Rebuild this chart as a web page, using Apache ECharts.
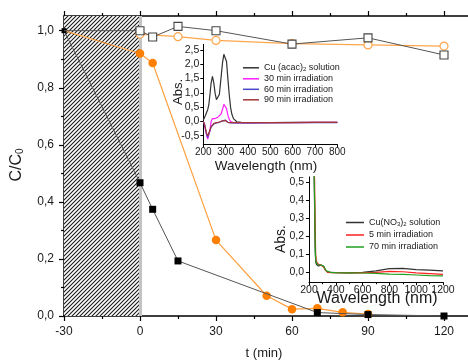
<!DOCTYPE html>
<html><head><meta charset="utf-8">
<script src="https://cdn.jsdelivr.net/npm/echarts@6/dist/echarts.min.js"></script>
<style>html,body{margin:0;padding:0;background:#fff}#c{width:468px;height:363px}</style>
</head><body><div id="c"></div>
<script>
// ---------- main chart data ----------
const tOpenSq = [-30, 0, 5, 15, 30, 60, 90, 120];
const vOpenSq = [1.0, 1.0, 0.978, 1.015, 1.0, 0.953, 0.975, 0.915];
const tOpenCirc = [0, 15, 30, 60, 90, 120];
const vOpenCirc = [0.988, 0.979, 0.966, 0.955, 0.950, 0.946];
const tFillCirc = [-30, 0, 5, 30, 50, 60, 70, 80, 90];
const vFillCirc = [1.0, 0.92, 0.887, 0.266, 0.071, 0.024, 0.027, 0.013, 0.007];
const tFillSq = [-30, 0, 5, 15, 70, 90, 120];
const vFillSq = [1.0, 0.467, 0.374, 0.193, 0.012, 0.005, 0.0];
const darkPeriod = [-30, 0];
const xTicksMain = [-30, 0, 30, 60, 90, 120];
const yTicksMain = [0, 0.2, 0.4, 0.6, 0.8, 1.0];
const yMinorMain = [0.1, 0.3, 0.5, 0.7, 0.9];

// ---------- inset 1: Cu(acac)2 ----------
const wl1 = [200, 205, 210, 215, 220, 225, 230, 235, 241, 247, 253, 259, 265, 272, 279, 286, 292, 298, 304, 310, 316, 322, 328, 335, 342, 350, 370, 400, 500, 600, 700, 800];
const acac0  = [0.05, 0.12, 0.22, 0.32, 0.42, 0.6, 0.95, 1.35, 1.58, 1.35, 0.98, 0.76, 0.7, 0.95, 1.5, 2.05, 2.35, 2.4, 2.1, 1.5, 0.95, 0.5, 0.25, 0.1, 0.03, -0.01, -0.03, -0.04, -0.04, -0.03, -0.03, -0.03];
const acac30 = [0.0, -0.1, -0.3, -0.5, -0.62, -0.55, -0.3, 0.0, 0.1, 0.11, 0.1, 0.12, 0.15, 0.18, 0.25, 0.42, 0.6, 0.64, 0.45, 0.22, 0.08, 0.0, -0.03, -0.04, -0.05, -0.05, -0.05, -0.05, -0.04, -0.04, -0.03, -0.03];
const acac60 = [0.0, -0.1, -0.28, -0.45, -0.55, -0.5, -0.32, -0.2, -0.13, -0.09, -0.07, -0.05, -0.04, -0.03, -0.01, 0.02, 0.05, 0.05, 0.01, -0.03, -0.05, -0.05, -0.05, -0.05, -0.05, -0.05, -0.05, -0.05, -0.04, -0.04, -0.04, -0.04];
const acac90 = [0.0, -0.08, -0.25, -0.42, -0.5, -0.46, -0.3, -0.18, -0.11, -0.07, -0.05, -0.04, -0.03, -0.02, 0.0, 0.02, 0.03, 0.03, 0.0, -0.03, -0.04, -0.04, -0.04, -0.04, -0.04, -0.04, -0.04, -0.04, -0.04, -0.04, -0.03, -0.03];
const absTicks1 = [-0.5, 0, 0.5, 1.0, 1.5, 2.0, 2.5];

// ---------- inset 2: Cu(NO3)2 ----------
const wl2 = [238, 242, 246, 250, 255, 262, 270, 280, 290, 300, 310, 320, 330, 340, 360, 400, 500, 600, 700, 800, 900, 1000, 1100, 1200];
const no0  = [0.55, 0.35, 0.12, 0.06, 0.045, 0.04, 0.035, 0.04, 0.04, 0.038, 0.03, 0.015, 0.005, 0.0, 0.0, -0.002, -0.003, 0.0, 0.008, 0.02, 0.022, 0.015, 0.012, 0.008];
const no5  = [0.6, 0.5, 0.25, 0.1, 0.06, 0.05, 0.045, 0.042, 0.04, 0.038, 0.03, 0.015, 0.005, 0.0, -0.002, -0.002, -0.003, -0.003, 0.0, 0.005, 0.003, -0.003, -0.007, -0.011];
const no70 = [0.55, 0.4, 0.15, 0.07, 0.05, 0.045, 0.042, 0.042, 0.04, 0.04, 0.035, 0.02, 0.008, 0.002, 0.0, -0.002, -0.003, -0.004, -0.006, -0.01, -0.012, -0.015, -0.018, -0.02];
const absTicks2 = [0, 0.1, 0.2, 0.3, 0.4, 0.5];

const legend1Names = ['Cu (acac)2 solution', '30 min irradiation', '60 min irradiation', '90 min irradiation'];
const legend2Names = ['Cu(NO3)2 solution', '5 min irradiation', '70 min irradiation'];
const richLabels = {
  'Cu (acac)2 solution': '{n|Cu (acac)}{s|2}{n| solution}',
  'Cu(NO3)2 solution': '{n|Cu(NO}{s|3}{n|)}{s|2}{n| solution}'
};

const F = '"Liberation Sans", Arial, sans-serif';
const TXT = '#1a1a1a';
const comma = v => (Math.abs(v) < 1e-9 ? 0 : v).toFixed(1).replace('.', ',');
const plain = v => String(v);
const pair = (xs, ys) => xs.map((x, i) => [x, ys[i]]);

// hatch pattern
const pc = document.createElement('canvas');
pc.width = 4; pc.height = 4;
const g = pc.getContext('2d');
g.fillStyle = '#fff'; g.fillRect(0, 0, 4, 4);
g.strokeStyle = '#1a1a1a'; g.lineWidth = 1.1;
g.beginPath();
g.moveTo(-1, 5); g.lineTo(5, -1);
g.moveTo(-1, 1); g.lineTo(1, -1);
g.moveTo(3, 5); g.lineTo(5, 3);
g.stroke();

const axLine = (w) => ({ onZero: false, lineStyle: { color: '#000', width: w } });
const tick = (len, w) => ({ length: len, lineStyle: { color: '#000', width: w } });

const legendCommon = {
  orient: 'vertical', padding: 0, icon: 'rect', itemHeight: 1.5, selectedMode: false,
  formatter: n => richLabels[n] || ('{n|' + n + '}'),
  textStyle: { fontSize: 9, color: TXT, rich: {
    n: { fontSize: 9, fontFamily: F, color: TXT, lineHeight: 10 },
    s: { fontSize: 6, fontFamily: F, color: TXT, verticalAlign: 'bottom', lineHeight: 7 } } }
};

const chart = echarts.init(document.getElementById('c'));
const option = {
  animation: false,
  textStyle: { fontFamily: F },
  grid: [
    { left: 64, top: 16, width: 456, height: 300, outerBoundsMode: 'none', containLabel: false },
    { left: 203.3, top: 44.3, width: 134, height: 100, outerBoundsMode: 'none', containLabel: false },
    { left: 309, top: 176.9, width: 134, height: 105.3, outerBoundsMode: 'none', containLabel: false }
  ],
  xAxis: [
    { gridIndex: 0, type: 'value', min: -30, max: 150, interval: 30, position: 'bottom',
      axisLine: axLine(1.5), axisTick: tick(5, 1.2),
      minorTick: { show: true, splitNumber: 2, length: 3, lineStyle: { color: '#000', width: 1.2 } },
      axisLabel: { customValues: xTicksMain, formatter: plain, fontSize: 12, color: TXT, margin: 10, fontFamily: F }, splitLine: { show: false } },
    { gridIndex: 0, type: 'value', min: -30, max: 150, interval: 30, position: 'top',
      axisLine: axLine(1.5), axisTick: tick(5, 1.2),
      minorTick: { show: true, splitNumber: 2, length: 3, lineStyle: { color: '#000', width: 1.2 } },
      axisLabel: { show: false }, splitLine: { show: false } },
    { gridIndex: 1, type: 'value', min: 200, max: 800, interval: 100,
      axisLine: axLine(1), axisTick: tick(3, 1),
      axisLabel: { formatter: plain, fontSize: 10, color: TXT, margin: 3, fontFamily: F }, splitLine: { show: false } },
    { gridIndex: 2, type: 'value', min: 200, max: 1200, interval: 200,
      axisLine: axLine(1), axisTick: tick(3, 1),
      minorTick: { show: true, splitNumber: 2, length: 2, lineStyle: { color: '#000', width: 1 } },
      axisLabel: { formatter: plain, fontSize: 10.5, color: TXT, margin: 2, fontFamily: F }, splitLine: { show: false } }
  ],
  yAxis: [
    { gridIndex: 0, type: 'value', min: 0, max: 1.0515, position: 'left',
      axisLine: axLine(1.5), axisTick: Object.assign(tick(5, 1.2), { customValues: yTicksMain }),
      axisLabel: { customValues: yTicksMain, formatter: comma, fontSize: 12, color: TXT, margin: 10, fontFamily: F },
      splitLine: { show: false } },
    { gridIndex: 0, type: 'value', min: 0, max: 1.0515, position: 'left', offset: 0,
      axisLine: { show: false, onZero: false }, axisTick: Object.assign(tick(3, 1.2), { customValues: yMinorMain }),
      axisLabel: { show: false }, splitLine: { show: false } },
    { gridIndex: 1, type: 'value', min: -0.8, max: 2.7, position: 'left',
      axisLine: axLine(1), axisTick: Object.assign(tick(3, 1), { customValues: absTicks1 }),
      axisLabel: { customValues: absTicks1, formatter: comma, fontSize: 10.5, color: TXT, margin: 4, fontFamily: F },
      splitLine: { show: false } },
    { gridIndex: 2, type: 'value', min: -0.055, max: 0.53, position: 'left',
      axisLine: axLine(1), axisTick: Object.assign(tick(3, 1), { customValues: absTicks2 }),
      axisLabel: { customValues: absTicks2, formatter: comma, fontSize: 10.5, color: TXT, margin: 5, fontFamily: F },
      splitLine: { show: false } }
  ],
  legend: [
    Object.assign({}, legendCommon, { data: legend1Names, left: 243, top: 63.3, itemGap: 1.5, itemWidth: 16 }),
    Object.assign({}, legendCommon, { data: legend2Names, left: 346, top: 218, itemGap: 3, itemWidth: 18 })
  ],
  series: [
    { type: 'line', name: 'dark', xAxisIndex: 0, yAxisIndex: 0, data: [], z: 1, silent: true,
      markArea: { silent: true, z: 1, itemStyle: { color: { image: pc, repeat: 'repeat' }, opacity: 1 },
        data: [[{ xAxis: darkPeriod[0] }, { xAxis: darkPeriod[1] }]] },
      markLine: { silent: true, z: 1, symbol: ['none', 'none'], label: { show: false },
        lineStyle: { color: '#c4c4c4', width: 3, type: 'solid' }, data: [{ xAxis: darkPeriod[1] }] } },
    { type: 'line', name: 'openCirc', xAxisIndex: 0, yAxisIndex: 0, z: 2,
      data: pair(tOpenCirc, vOpenCirc), symbol: 'circle', symbolSize: 8,
      itemStyle: { color: '#fff', borderColor: '#FFA64D', borderWidth: 1.2 },
      lineStyle: { color: '#FFA64D', width: 1.2 } },
    { type: 'line', name: 'fillCirc', xAxisIndex: 0, yAxisIndex: 0, z: 3,
      data: pair(tFillCirc, vFillCirc).map((p, i) => i === 0 ? { value: p, symbol: 'none' } : p),
      symbol: 'circle', symbolSize: 8.5,
      itemStyle: { color: '#FF8000' }, lineStyle: { color: '#FFA040', width: 1.2 } },
    { type: 'line', name: 'fillSq', xAxisIndex: 0, yAxisIndex: 0, z: 4,
      data: pair(tFillSq, vFillSq).map((p, i) => i === 0 ? { value: p, symbolSize: 5 } : p),
      symbol: 'rect', symbolSize: 7,
      itemStyle: { color: '#000' }, lineStyle: { color: '#555', width: 1 } },
    { type: 'line', name: 'openSq', xAxisIndex: 0, yAxisIndex: 0, z: 5,
      data: pair(tOpenSq, vOpenSq).map((p, i) => i === 0 ? { value: p, symbol: 'none' } : p),
      symbol: 'rect', symbolSize: 8,
      itemStyle: { color: '#fff', borderColor: '#444', borderWidth: 1.1 }, lineStyle: { color: '#555', width: 1 } },
    // inset 1
    { type: 'line', name: legend1Names[0], xAxisIndex: 2, yAxisIndex: 2, symbol: 'none', z: 6,
      data: pair(wl1, acac0), lineStyle: { color: '#333', width: 1.2 }, itemStyle: { color: '#333' } },
    { type: 'line', name: legend1Names[1], xAxisIndex: 2, yAxisIndex: 2, symbol: 'none', z: 6,
      data: pair(wl1, acac30), lineStyle: { color: '#FF1EFF', width: 1.2 }, itemStyle: { color: '#FF1EFF' } },
    { type: 'line', name: legend1Names[2], xAxisIndex: 2, yAxisIndex: 2, symbol: 'none', z: 6,
      data: pair(wl1, acac60), lineStyle: { color: '#4848C8', width: 1.2 }, itemStyle: { color: '#4848C8' } },
    { type: 'line', name: legend1Names[3], xAxisIndex: 2, yAxisIndex: 2, symbol: 'none', z: 6,
      data: pair(wl1, acac90), lineStyle: { color: '#A03838', width: 1.2 }, itemStyle: { color: '#A03838' } },
    // inset 2
    { type: 'line', name: legend2Names[0], xAxisIndex: 3, yAxisIndex: 3, symbol: 'none', z: 6,
      data: pair(wl2, no0), lineStyle: { color: '#333', width: 1.2 }, itemStyle: { color: '#333' } },
    { type: 'line', name: legend2Names[1], xAxisIndex: 3, yAxisIndex: 3, symbol: 'none', z: 6,
      data: pair(wl2, no5), lineStyle: { color: '#FF2020', width: 1.2 }, itemStyle: { color: '#FF2020' } },
    { type: 'line', name: legend2Names[2], xAxisIndex: 3, yAxisIndex: 3, symbol: 'none', z: 6,
      data: pair(wl2, no70), lineStyle: { color: '#20A020', width: 1.2 }, itemStyle: { color: '#20A020' } }
  ],
  graphic: [
    { type: 'text', x: 16, y: 165, rotation: Math.PI / 2,
      style: { text: '{a|C/C}{b|0}', align: 'center', verticalAlign: 'middle',
        rich: { a: { fontSize: 16, fontFamily: F, fill: TXT, color: TXT, verticalAlign: 'bottom', lineHeight: 18 },
                b: { fontSize: 10, fontFamily: F, fill: TXT, color: TXT, verticalAlign: 'bottom', lineHeight: 10 } } } },
    { type: 'text', x: 264, y: 353,
      style: { text: 't (min)', fontSize: 13, fontFamily: F, fill: TXT, align: 'center', verticalAlign: 'middle' } },
    { type: 'text', x: 178, y: 92, rotation: Math.PI / 2,
      style: { text: 'Abs.', fontSize: 13, fontFamily: F, fill: TXT, align: 'center', verticalAlign: 'middle' } },
    { type: 'text', x: 266, y: 166,
      style: { text: 'Wavelength (nm)', fontSize: 13.5, fontFamily: F, fill: TXT, align: 'center', verticalAlign: 'middle' } },
    { type: 'text', x: 281, y: 239, rotation: Math.PI / 2,
      style: { text: 'Abs.', fontSize: 14, fontFamily: F, fill: TXT, align: 'center', verticalAlign: 'middle' } },
    { type: 'text', x: 377, y: 299,
      style: { text: 'Wavelength (nm)', fontSize: 16, fontFamily: F, fill: TXT, align: 'center', verticalAlign: 'middle' } }
  ]
};
chart.setOption(option);
</script>
</body></html>
